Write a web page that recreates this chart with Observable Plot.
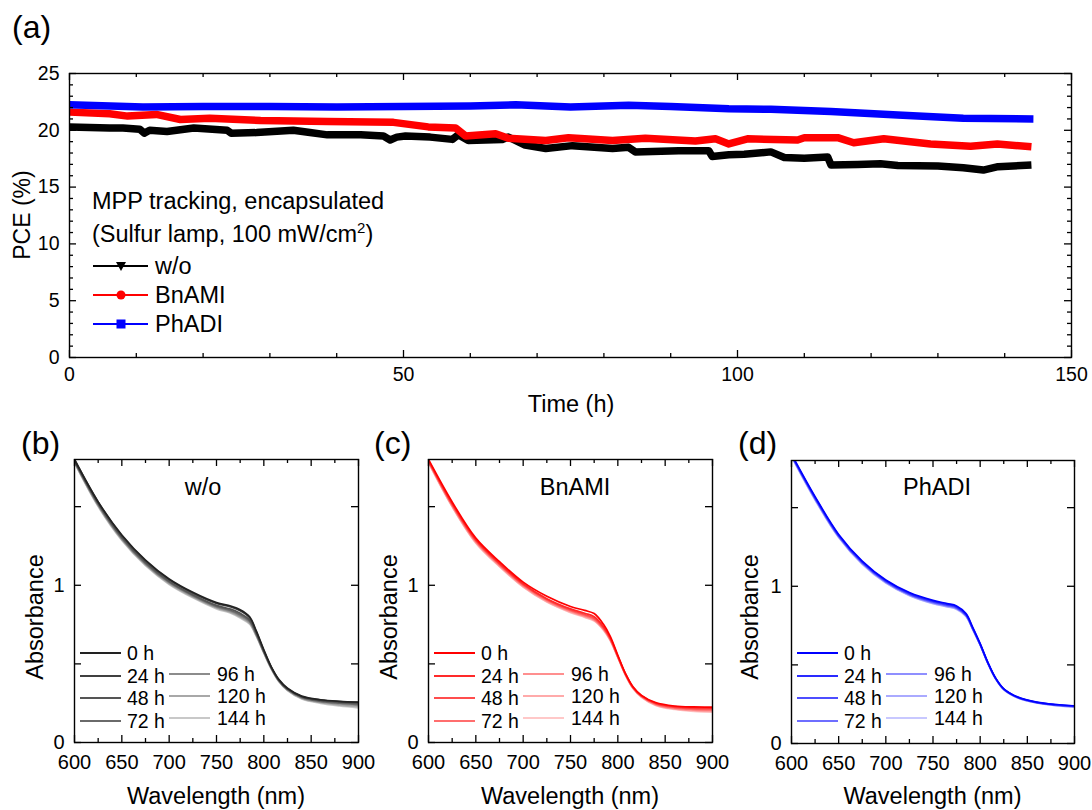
<!DOCTYPE html>
<html><head><meta charset="utf-8">
<script src="https://cdn.jsdelivr.net/npm/d3@7"></script>
<script src="https://cdn.jsdelivr.net/npm/@observablehq/plot@0.6"></script>
<style>
html,body{margin:0;padding:0;background:#fff;}
#root{position:relative;width:1092px;height:810px;overflow:hidden;font-family:"Liberation Sans",Arial,sans-serif;}
</style></head><body><div id="root"></div>
<script>
// ---------- Panel (a): MPP tracking PCE ----------
const timeWo = [0,3,6,8,10.5,11.2,12,14.6,18.6,23.6,24.2,28,33.5,36,38.6,43.6,47,48,49,50.3,54,57.3,58.2,59.7,64.8,65.7,68.2,71.3,75.3,81.3,83.7,84.7,91.2,95.7,96.2,98.7,101,105,107,110,113.5,114,118,121.4,124,130,133.8,136.8,139,144];
const pceWo  = [20.3,20.25,20.2,20.2,20.1,19.75,20.0,19.9,20.2,20.0,19.75,19.8,20.0,19.8,19.6,19.6,19.5,19.15,19.4,19.5,19.4,19.2,19.6,19.1,19.2,19.4,18.7,18.4,18.65,18.4,18.5,18.1,18.2,18.2,17.7,17.85,17.9,18.1,17.6,17.55,17.65,16.95,17.0,17.05,16.9,16.85,16.7,16.5,16.8,16.95];
const timeBn = [0,6,8.7,13,16.6,21,28.6,38.6,48.5,53.7,57.8,59.3,63.8,65.7,71.3,74.7,81.3,86.2,93.7,96.7,98.7,101.5,109,110,115,117.4,121.9,128.9,134.9,138.9,144];
const pceBn  = [21.6,21.45,21.25,21.4,20.95,21.07,20.86,20.77,20.7,20.3,20.2,19.5,19.7,19.3,19.1,19.35,19.1,19.3,19.05,19.25,18.8,19.25,19.15,19.35,19.35,18.9,19.25,18.8,18.6,18.8,18.55];
const timePh = [0,11,20,30,40,50,60,66.8,75,83.7,90,98.7,105,114,124,133.8,144.3];
const pcePh  = [22.25,22.05,22.1,22.1,22.05,22.1,22.15,22.25,22.05,22.2,22.1,21.9,21.85,21.65,21.35,21.07,21.0];
const seriesNamesA = ["w/o","BnAMI","PhADI"];
const seriesColorsA = ["#000000","#ff0000","#0000ff"];
const xTicksA = [0,50,100,150];
const xMinorA = [10,20,30,40,60,70,80,90,110,120,130,140];
const yTicksA = [0,5,10,15,20,25];
const yMinorA = [1,2,3,4,6,7,8,9,11,12,13,14,16,17,18,19,21,22,23,24];

// ---------- Panels (b)-(d): absorbance ----------
const wavelengths = [600,625,650,675,700,725,750,765,775,785,792,800,808,816,825,840,860,880,900];
const agingLabels = ["0 h","24 h","48 h","72 h","96 h","120 h","144 h"];
const absWo = [
  [1.80,1.53,1.32,1.16,1.04,0.955,0.89,0.868,0.845,0.80,0.71,0.59,0.48,0.40,0.345,0.295,0.272,0.262,0.257],
  [1.80,1.53,1.315,1.155,1.035,0.95,0.885,0.862,0.838,0.793,0.705,0.585,0.478,0.398,0.343,0.293,0.27,0.26,0.255],
  [1.79,1.52,1.305,1.145,1.025,0.94,0.872,0.848,0.822,0.78,0.695,0.58,0.475,0.395,0.34,0.29,0.266,0.255,0.248],
  [1.79,1.515,1.30,1.14,1.02,0.935,0.866,0.84,0.813,0.772,0.69,0.577,0.473,0.393,0.338,0.287,0.262,0.25,0.242],
  [1.785,1.51,1.295,1.135,1.015,0.93,0.86,0.833,0.805,0.765,0.685,0.574,0.47,0.39,0.335,0.284,0.258,0.245,0.236],
  [1.78,1.505,1.29,1.13,1.01,0.925,0.855,0.827,0.798,0.758,0.68,0.571,0.468,0.388,0.332,0.28,0.253,0.238,0.228],
  [1.78,1.50,1.285,1.125,1.005,0.92,0.85,0.822,0.792,0.752,0.676,0.568,0.466,0.386,0.33,0.277,0.249,0.232,0.22]
];
const absBn = [
  [1.80,1.53,1.30,1.15,1.02,0.93,0.865,0.84,0.82,0.75,0.675,0.555,0.44,0.355,0.30,0.254,0.232,0.226,0.225],
  [1.795,1.52,1.29,1.14,1.01,0.915,0.85,0.822,0.80,0.735,0.665,0.55,0.437,0.352,0.297,0.25,0.228,0.221,0.219],
  [1.79,1.515,1.285,1.135,1.005,0.91,0.843,0.814,0.79,0.728,0.66,0.547,0.435,0.35,0.295,0.247,0.224,0.216,0.213],
  [1.79,1.51,1.28,1.13,1.0,0.905,0.838,0.808,0.784,0.723,0.656,0.545,0.433,0.348,0.293,0.244,0.22,0.211,0.207],
  [1.785,1.505,1.275,1.125,0.995,0.90,0.833,0.803,0.779,0.719,0.653,0.543,0.431,0.346,0.291,0.241,0.216,0.206,0.202],
  [1.78,1.50,1.27,1.12,0.99,0.895,0.829,0.799,0.775,0.716,0.65,0.541,0.43,0.345,0.289,0.238,0.213,0.202,0.197],
  [1.78,1.50,1.268,1.118,0.988,0.893,0.826,0.796,0.772,0.713,0.648,0.54,0.429,0.344,0.288,0.236,0.21,0.198,0.193]
];
const absPh = [
  [1.84,1.57,1.33,1.16,1.04,0.96,0.91,0.89,0.875,0.826,0.74,0.635,0.518,0.42,0.348,0.295,0.263,0.248,0.24],
  [1.835,1.565,1.325,1.155,1.035,0.955,0.905,0.885,0.869,0.821,0.736,0.632,0.516,0.419,0.347,0.294,0.262,0.247,0.238],
  [1.835,1.56,1.32,1.15,1.03,0.95,0.90,0.88,0.864,0.817,0.733,0.63,0.515,0.418,0.346,0.293,0.261,0.245,0.236],
  [1.83,1.56,1.318,1.148,1.028,0.948,0.897,0.877,0.861,0.814,0.731,0.629,0.514,0.417,0.345,0.292,0.26,0.244,0.235],
  [1.83,1.555,1.315,1.145,1.025,0.945,0.894,0.874,0.858,0.812,0.729,0.628,0.513,0.416,0.344,0.291,0.259,0.243,0.234],
  [1.825,1.55,1.312,1.142,1.022,0.942,0.891,0.871,0.855,0.81,0.728,0.627,0.512,0.415,0.343,0.29,0.258,0.242,0.233],
  [1.825,1.55,1.31,1.14,1.02,0.94,0.889,0.869,0.853,0.808,0.727,0.626,0.512,0.415,0.343,0.29,0.258,0.241,0.232]
];
const colorsWo = ["#222222","#404040","#555555","#6a6a6a","#8c8c8c","#a8a8a8","#c8c8c8"];
const colorsBn = ["#ff0000","#ff2a2a","#ff4d4d","#ff6e6e","#ff8f8f","#ffaaaa","#ffc8c8"];
const colorsPh = ["#0000ff","#2a2aff","#4d4dff","#6e6eff","#8f8fff","#aaaaff","#c8c8ff"];
const xTicksAbs = [600,650,700,750,800,850,900];
const xMinorAbs = [625,675,725,775,825,875];
const yTicksAbs = [0,0.5,1,1.5];
const yLabelsAbs = [0,1];

// ---------- Layout ----------
const FONT = '"Liberation Sans", Arial, sans-serif';
const root = document.getElementById("root");
function place(el, left, top) {
  el.style.position = "absolute";
  el.style.left = left + "px";
  el.style.top = top + "px";
  root.appendChild(el);
}
function frameTicks(xMaj, xMin, yMaj, yMin, iw, ih, majL, minL) {
  const st = {stroke: "#000", strokeWidth: 1.3};
  const m = [];
  m.push(Plot.tickX(xMaj, {x: d => d, insetTop: ih - majL, ...st}));
  m.push(Plot.tickX(xMaj, {x: d => d, insetBottom: ih - majL, ...st}));
  m.push(Plot.tickY(yMaj, {y: d => d, insetRight: iw - majL, ...st}));
  m.push(Plot.tickY(yMaj, {y: d => d, insetLeft: iw - majL, ...st}));
  if (xMin.length) {
    m.push(Plot.tickX(xMin, {x: d => d, insetTop: ih - minL, ...st}));
    m.push(Plot.tickX(xMin, {x: d => d, insetBottom: ih - minL, ...st}));
  }
  if (yMin.length) {
    m.push(Plot.tickY(yMin, {y: d => d, insetRight: iw - minL, ...st}));
    m.push(Plot.tickY(yMin, {y: d => d, insetLeft: iw - minL, ...st}));
  }
  return m;
}

// Panel (a)
{
  const F = {x0: 69, x1: 1071, y0: 73, y1: 357};
  const W = 1092, H = 420;
  const iw = F.x1 - F.x0, ih = F.y1 - F.y0;
  const sets = [[timeWo, pceWo], [timeBn, pceBn], [timePh, pcePh]];
  const lines = sets.map(([ts, vs], k) =>
    Plot.line(ts.map((t, i) => ({t, v: vs[i], s: seriesNamesA[k]})),
      {x: "t", y: "v", stroke: seriesColorsA[k], strokeWidth: 7.5, strokeLinejoin: "round", strokeLinecap: "butt"}));
  const svg = Plot.plot({
    width: W, height: H,
    marginLeft: F.x0, marginRight: W - F.x1, marginTop: F.y0, marginBottom: H - F.y1,
    style: {background: "transparent", fontFamily: FONT, fontSize: "19px", color: "#000", overflow: "visible", maxWidth: "none"},
    x: {domain: [0, 150], label: null},
    y: {domain: [0, 25], label: null},
    marks: [
      ...lines,
      ...frameTicks(xTicksA, xMinorA, yTicksA, yMinorA, iw, ih, 7, 4),
      Plot.frame({stroke: "#000", strokeWidth: 1.4}),
      Plot.axisX({ticks: xTicksA, tickSize: 0, tickPadding: 10, fontSize: 19.5, label: null, tickFormat: d => String(d)}),
      Plot.axisY({ticks: yTicksA, tickSize: 0, tickPadding: 10, fontSize: 19.5, label: null, tickFormat: d => String(d)})
    ]
  });
  place(svg, 0, 0);
}

// Panels (b)-(d)
const panels = [
  {x0: 74, x1: 358, y0: 459, y1: 742, data: absWo, colors: colorsWo},
  {x0: 428, x1: 712, y0: 459, y1: 742, data: absBn, colors: colorsBn},
  {x0: 791, x1: 1074, y0: 460, y1: 743, data: absPh, colors: colorsPh}
];
for (const P of panels) {
  const left = P.x0 - 70, top = 440, W = P.x1 - P.x0 + 82, H = 370;
  const iw = P.x1 - P.x0, ih = P.y1 - P.y0;
  const lines = [];
  for (let k = P.data.length - 1; k >= 0; k--) {
    lines.push(Plot.line(wavelengths.map((w, i) => ({w, a: P.data[k][i]})),
      {x: "w", y: "a", stroke: P.colors[k], strokeWidth: 1.7, curve: "catmull-rom", clip: true}));
  }
  const svg = Plot.plot({
    width: W, height: H,
    marginLeft: 70, marginRight: 12, marginTop: P.y0 - top, marginBottom: top + H - P.y1,
    style: {background: "transparent", fontFamily: FONT, fontSize: "20px", color: "#000", overflow: "visible", maxWidth: "none"},
    x: {domain: [600, 900], label: null},
    y: {domain: [0, 1.8], label: null},
    marks: [
      ...lines,
      ...frameTicks(xTicksAbs, xMinorAbs, yTicksAbs, [], iw, ih, 7, 4),
      Plot.frame({stroke: "#000", strokeWidth: 1.4}),
      Plot.axisX({ticks: xTicksAbs, tickSize: 0, tickPadding: 12, fontSize: 20, label: null, tickFormat: d => String(d)}),
      Plot.axisY({ticks: yLabelsAbs, tickSize: 0, tickPadding: 10, fontSize: 20, label: null, tickFormat: d => String(d)})
    ]
  });
  place(svg, left, top);
}

// ---------- Overlay text & legends ----------
const ov = d3.create("svg").attr("width", 1092).attr("height", 810)
  .style("font-family", FONT).style("pointer-events", "none");
function txt(x, y, s, size, opts = {}) {
  const t = ov.append("text").attr("x", x).attr("y", y).attr("font-size", size).attr("fill", "#000").text(s);
  if (opts.anchor) t.attr("text-anchor", opts.anchor);
  if (opts.rotate) t.attr("transform", `rotate(-90 ${x} ${y})`);
  return t;
}
// panel letters
txt(12, 38, "(a)", 32);
txt(21, 454, "(b)", 32);
txt(374, 454, "(c)", 32);
txt(738, 454, "(d)", 32);
// panel (a) axis labels
txt(30, 215, "PCE (%)", 23, {anchor: "middle", rotate: true});
txt(571, 412, "Time (h)", 23.5, {anchor: "middle"});
// panel (a) legend
txt(92, 209, "MPP tracking, encapsulated", 23.5);
{
  const t = txt(92, 242, "(Sulfur lamp, 100 mW/cm", 23.5);
  t.append("tspan").attr("dy", -9).attr("font-size", 15).text("2");
  t.append("tspan").attr("dy", 9).text(")");
}
const legA = [
  {y: 266, ty: 274, c: "#000", shape: "tri"},
  {y: 295, ty: 303, c: "#ff0000", shape: "circle"},
  {y: 324, ty: 332, c: "#0000ff", shape: "square"}
];
legA.forEach((L, k) => {
  ov.append("line").attr("x1", 93).attr("x2", 148).attr("y1", L.y).attr("y2", L.y).attr("stroke", L.c).attr("stroke-width", 2);
  if (L.shape === "tri") ov.append("path").attr("d", `M116,${L.y - 4}L126,${L.y - 4}L121,${L.y + 5}Z`).attr("fill", L.c);
  if (L.shape === "circle") ov.append("circle").attr("cx", 121).attr("cy", L.y).attr("r", 4.5).attr("fill", L.c);
  if (L.shape === "square") ov.append("rect").attr("x", 116.5).attr("y", L.y - 4.5).attr("width", 9).attr("height", 9).attr("fill", L.c);
  txt(155, L.ty, seriesNamesA[k], 23.5);
});
// bottom panels: titles, axis labels, legends
const titles = ["w/o", "BnAMI", "PhADI"];
const titleX = [203, 575, 937];
const absLabelX = [43, 397, 758];
panels.forEach((P, p) => {
  txt(titleX[p], 495, titles[p], 23.5, {anchor: "middle"});
  txt(absLabelX[p], 617, "Absorbance", 23.5, {anchor: "middle", rotate: true});
  txt((P.x0 + P.x1) / 2, 804, "Wavelength (nm)", 23.5, {anchor: "middle"});
  const col1Y = [653, 676, 698, 721];
  const col2Y = [674, 696, 718];
  agingLabels.forEach((lab, k) => {
    const col2 = k >= 4;
    const y = col2 ? col2Y[k - 4] : col1Y[k];
    const lx = P.x0 + (col2 ? 95 : 6);
    ov.append("line").attr("x1", lx).attr("x2", lx + 41).attr("y1", y).attr("y2", y)
      .attr("stroke", P.colors[k]).attr("stroke-width", 2);
    txt(P.x0 + (col2 ? 143 : 53), y + 7, lab, 19.5);
  });
});
place(ov.node(), 0, 0);
</script></body></html>
